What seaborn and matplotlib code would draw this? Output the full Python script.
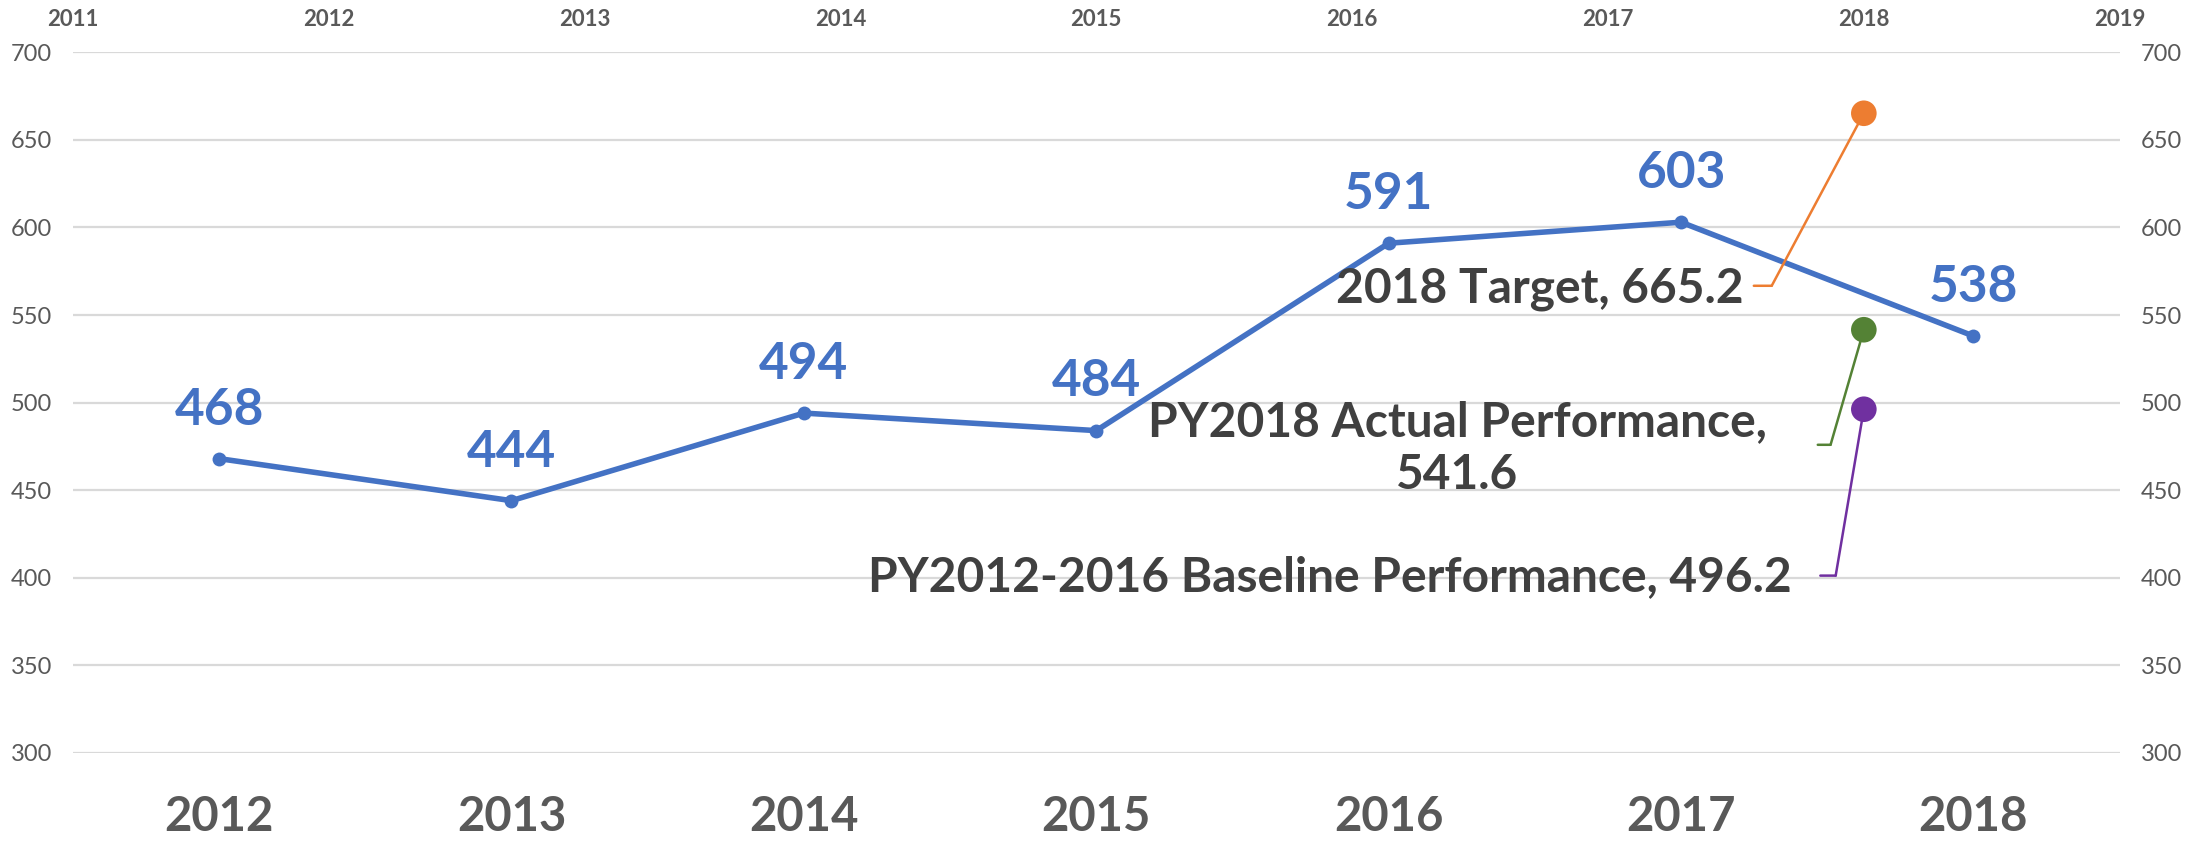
import numpy as np
import pandas as pd
import matplotlib
matplotlib.use('Agg')
import matplotlib.pyplot as plt
import seaborn as sns

# performance by program year
years = ['2012', '2013', '2014', '2015', '2016', '2017', '2018']
values = [468, 444, 494, 484, 591, 603, 538]

# 2018 reference points (drawn against the top year axis)
ref_labels = ['2018 Target', 'PY2018 Actual Performance,\n', 'PY2012-2016 Baseline Performance']
ref_values = [665.2, 541.6, 496.2]
ref_year = 2018
ref_colors = ['#ED7D31', '#548235', '#7030A0']
top_years = list(range(2011, 2020))

sns.set_theme(style='white')
plt.rcParams['font.family'] = ['Lato', 'DejaVu Sans']

blue = '#4472C4'
grey = '#595959'
dark = '#404040'

fig = plt.figure(figsize=(22.08, 8.44), dpi=100)
ax = fig.add_axes([0.033, 0.108, 0.927, 0.83])

df = pd.DataFrame({'year': years, 'value': values})
sns.lineplot(data=df, x='year', y='value', sort=False, color=blue, lw=4,
             marker='o', markersize=10, markeredgewidth=0, ax=ax)
for i, v in enumerate(values):
    ax.annotate(str(v), (i, v), xytext=(0, 35), textcoords='offset points',
                ha='center', va='center', color=blue, fontsize=37, fontweight='bold')

ax.set_xlim(-0.5, len(years) - 0.5)
ax.set_ylim(300, 700)
ax.set_yticks(range(300, 701, 50))
ax.set_xlabel('')
ax.set_ylabel('')
ax.grid(axis='y', color='#D9D9D9', lw=1.6)
ax.grid(axis='x', visible=False)
for s in ax.spines.values():
    s.set_visible(False)
ax.tick_params(axis='x', length=0, pad=30, labelsize=34, labelcolor=grey)
for t in ax.get_xticklabels():
    t.set_fontweight('bold')
ax.tick_params(axis='y', length=0, labelsize=17, labelcolor=grey,
               labelright=True, pad=15)

# secondary axes on top for the 2018 reference points
ax2 = ax.twiny()
ax2.set_xlim(top_years[0], top_years[-1])
ax2.set_xticks(top_years)
ax2.set_xticklabels([str(y) for y in top_years])
ax2.tick_params(axis='x', length=0, pad=16, labelsize=16, labelcolor=grey)
for t in ax2.get_xticklabels():
    t.set_fontweight('bold')
for s in ax2.spines.values():
    s.set_visible(False)
ax2.grid(False)

# callout layout: text anchor, text alignment, leader stub (x0, x1, y)
text_pos = [(2017.53, 565), (2016.41, 473.5), (2017.72, 400.4)]
text_ha = ['right', 'center', 'right']
stubs = [(2017.57, 2017.64, 566.7), (2017.82, 2017.87, 475.9), (2017.83, 2017.89, 401.2)]

for lab, v, c, tp, ha, st in zip(ref_labels, ref_values, ref_colors, text_pos, text_ha, stubs):
    txt = f'{lab}, {v}' if not lab.endswith('\n') else f'{lab}{v}'
    ax2.text(tp[0], tp[1], txt, ha=ha, va='center', color=dark, fontsize=34.5,
             fontweight='bold', multialignment='center', linespacing=1.25)
    ax2.annotate('', xy=(st[1], st[2]), xytext=(st[0], st[2]),
                 arrowprops=dict(arrowstyle='-', color=c, lw=1.8, shrinkA=0, shrinkB=0))
    ax2.annotate('', xy=(ref_year, v), xytext=(st[1], st[2]),
                 arrowprops=dict(arrowstyle='-', color=c, lw=1.8, shrinkA=0, shrinkB=0))

ref_df = pd.DataFrame({'year': [ref_year] * len(ref_values), 'value': ref_values,
                       'label': ref_labels})
sns.scatterplot(data=ref_df, x='year', y='value', hue='label',
                palette=dict(zip(ref_labels, ref_colors)), s=340, edgecolor='none',
                legend=False, ax=ax2, zorder=5)
ax2.set_xlabel('')
ax2.set_ylabel('')

fig.savefig('out.png', dpi=100)
